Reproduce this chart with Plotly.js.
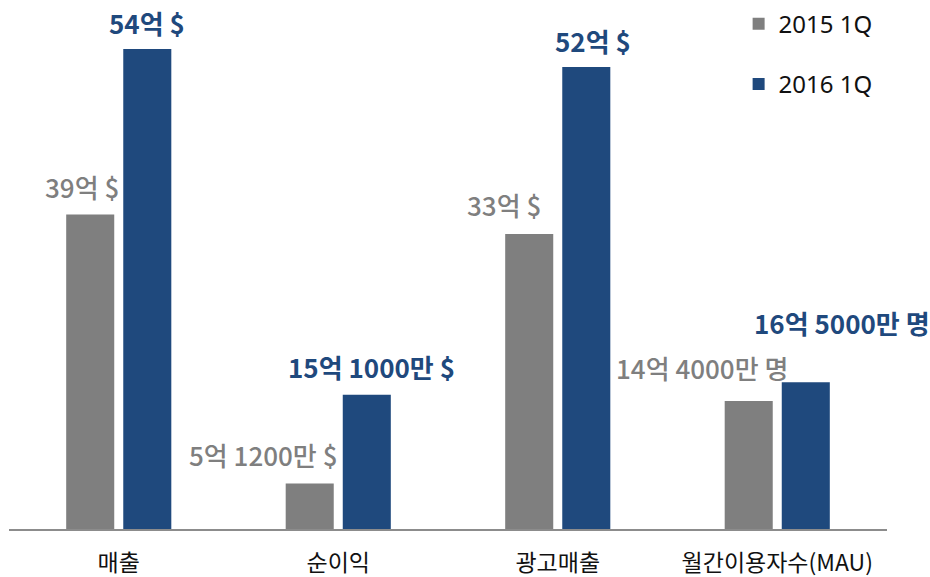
<!DOCTYPE html>
<html>
<head>
<meta charset="utf-8">
<script src="https://cdn.plot.ly/plotly-3.0.1.min.js"></script>
<style>
  html, body { margin: 0; padding: 0; background: #fff; }
  #chart { width: 930px; height: 577px; }
</style>
</head>
<body>
<div id="chart"></div>
<script>
// 카테고리와 시리즈 값 (막대 높이는 그림에서 읽은 값, 단위: 억)
const categories = ['매출', '순이익', '광고매출', '월간이용자수(MAU)'];
const seriesNames = ['2015 1Q', '2016 1Q'];
const values2015 = [35.4, 5.12, 33.2, 14.4];
const values2016 = [54, 15.1, 52, 16.5];
const labels2015 = ['39억 $', '5억 1200만 $', '33억 $', '14억 4000만 명'];
const labels2016 = ['54억 $', '15억 1000만 $', '52억 $', '16억 5000만 명'];

const GRAY = '#7f7f7f';
const BLUE = '#1f497d';
const FONT = '"Noto Sans CJK KR", "Noto Sans", sans-serif';
const LEGEND_FONT = '"Noto Sans", "Open Sans", sans-serif';

// 라벨 위치 보정 (픽셀)
const shift2015 = [[-37, 28], [-75, 29], [-54, 29], [-75, 34]];
const shift2016 = [[28, 27], [33, 28], [35, 26], [65, 60]];

function barTrace(name, vals, color, group) {
  return {
    type: 'bar',
    name: name,
    x: categories,
    y: vals,
    legendgroup: group,
    marker: { color: color, line: { width: 0 } },
    hoverinfo: 'skip'
  };
}

const data = [
  barTrace(seriesNames[0], values2015, GRAY, 'a'),
  barTrace(seriesNames[1], values2016, BLUE, 'b')
];

const annotations = [];
categories.forEach((c, i) => {
  annotations.push({
    x: c, y: values2015[i], xref: 'x', yref: 'y',
    text: labels2015[i], showarrow: false,
    xanchor: 'center', yanchor: 'middle',
    xshift: shift2015[i][0], yshift: shift2015[i][1],
    font: { family: FONT, size: 26, weight: 500, color: GRAY }
  });
  annotations.push({
    x: c, y: values2016[i], xref: 'x', yref: 'y',
    text: labels2016[i], showarrow: false,
    xanchor: 'center', yanchor: 'middle',
    xshift: shift2016[i][0], yshift: shift2016[i][1],
    font: { family: FONT, size: 26, weight: 700, color: BLUE }
  });
});

const layout = {
  width: 930,
  height: 577,
  paper_bgcolor: '#fff',
  plot_bgcolor: '#fff',
  margin: { l: 9, r: 43, t: 10, b: 48, autoexpand: false },
  barmode: 'group',
  bargap: 0.48,
  bargroupgap: 0.158,
  showlegend: true,
  legend: {
    x: 0.831, xanchor: 'left', xref: 'paper',
    y: 1.016, yanchor: 'top',
    traceorder: 'grouped',
    tracegroupgap: 26,
    itemwidth: 30,
    bgcolor: 'rgba(0,0,0,0)',
    font: { family: LEGEND_FONT, size: 24, color: '#111' }
  },
  xaxis: {
    range: [-0.5, 3.5],
    showline: true,
    linecolor: '#8c8c8c',
    linewidth: 2,
    showgrid: false,
    zeroline: false,
    ticks: '',
    ticklabelstandoff: 12,
    tickfont: { family: FONT, size: 23, color: '#111' }
  },
  yaxis: {
    range: [0, 58.4],
    visible: false,
    showgrid: false,
    zeroline: false
  },
  annotations: annotations
};

Plotly.newPlot('chart', data, layout, { displayModeBar: false, staticPlot: true });
</script>
</body>
</html>
